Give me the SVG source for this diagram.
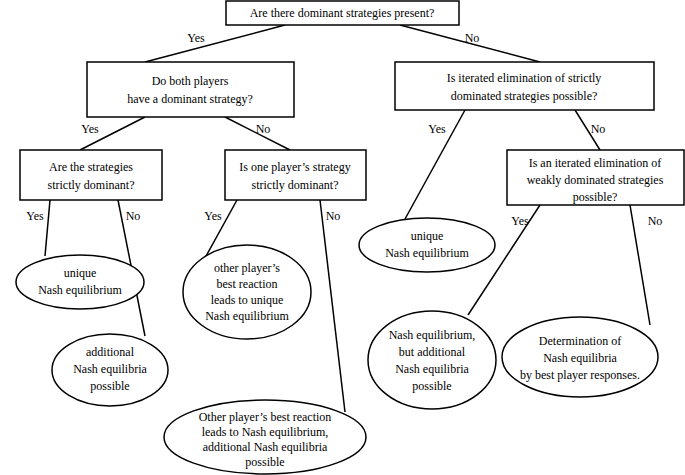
<svg xmlns="http://www.w3.org/2000/svg" width="685" height="475" viewBox="0 0 685 475">
<style>
rect,ellipse{fill:#fff;stroke:#000;stroke-width:1.5}
line{stroke:#000;stroke-width:1.5}
text{font-family:'Liberation Serif','Times New Roman','DejaVu Serif',serif;font-size:12px;fill:#000;text-anchor:middle}
</style>
<rect width="685" height="475" fill="#fff" style="stroke:none"/>
<g id="connectors">
<line x1="285" y1="25" x2="145" y2="62"/><text x="196" y="42">Yes</text>
<line x1="400" y1="25" x2="540" y2="62"/><text x="472" y="42">No</text>
<line x1="145" y1="117" x2="80" y2="150"/><text x="90" y="133">Yes</text>
<line x1="225" y1="117" x2="290" y2="150"/><text x="263" y="133">No</text>
<line x1="465" y1="110" x2="405" y2="219"/><text x="437" y="133">Yes</text>
<line x1="575" y1="110" x2="600" y2="150"/><text x="598" y="133">No</text>
<line x1="50" y1="200" x2="45" y2="256"/><text x="35" y="220">Yes</text>
<line x1="118" y1="200" x2="145" y2="336"/><text x="133" y="220">No</text>
<line x1="237" y1="200" x2="205" y2="258"/><text x="213" y="220">Yes</text>
<line x1="320" y1="200" x2="345" y2="412"/><text x="333" y="220">No</text>
<line x1="540" y1="205" x2="468" y2="315"/><text x="520" y="225">Yes</text>
<line x1="630" y1="205" x2="650" y2="325"/><text x="655" y="225">No</text>
</g>
<g id="n0"><rect x="226" y="1" width="233" height="24"/><text x="342" y="17">Are there dominant strategies present?</text></g>
<g id="n1"><rect x="87" y="62" width="207" height="55"/><text x="190" y="85">Do both players</text><text x="190" y="103">have a dominant strategy?</text></g>
<g id="n2"><rect x="395" y="62" width="259" height="48"/><text x="524" y="82">Is iterated elimination of strictly</text><text x="524" y="100">dominated strategies possible?</text></g>
<g id="n3"><rect x="20" y="150" width="142" height="50"/><text x="91" y="171">Are the strategies</text><text x="91" y="189">strictly dominant?</text></g>
<g id="n4"><rect x="225" y="150" width="141" height="50"/><text x="295" y="171">Is one player’s strategy</text><text x="295" y="189">strictly dominant?</text></g>
<g id="n5"><rect x="507" y="150" width="177" height="55"/><text x="595" y="167">Is an iterated elimination of</text><text x="595" y="184">weakly dominated strategies</text><text x="595" y="201">possible?</text></g>
<g id="e1"><ellipse cx="80" cy="282" rx="64" ry="27"/><text x="80" y="277">unique</text><text x="80" y="294">Nash equilibrium</text></g>
<g id="e2"><ellipse cx="110" cy="370" rx="58" ry="36"/><text x="110" y="356">additional</text><text x="110" y="373">Nash equilibria</text><text x="110" y="390">possible</text></g>
<g id="e3"><ellipse cx="247" cy="292" rx="64" ry="47"/><text x="247" y="272">other player’s</text><text x="247" y="288">best reaction</text><text x="247" y="304">leads to unique</text><text x="247" y="320">Nash equilibrium</text></g>
<g id="e4"><ellipse cx="265" cy="437" rx="101" ry="37"/><text x="265" y="421">Other player’s best reaction</text><text x="265" y="436">leads to Nash equilibrium,</text><text x="265" y="451">additional Nash equilibria</text><text x="265" y="466">possible</text></g>
<g id="e5"><ellipse cx="427" cy="245" rx="68" ry="27"/><text x="427" y="240">unique</text><text x="427" y="257">Nash equilibrium</text></g>
<g id="e6"><ellipse cx="432" cy="360" rx="64" ry="49"/><text x="432" y="339">Nash equilibrium,</text><text x="432" y="356">but additional</text><text x="432" y="373">Nash equilibria</text><text x="432" y="390">possible</text></g>
<g id="e7"><ellipse cx="580" cy="357" rx="78" ry="40"/><text x="580" y="345">Determination of</text><text x="580" y="362">Nash equilibria</text><text x="580" y="379">by best player responses.</text></g>
</svg>
